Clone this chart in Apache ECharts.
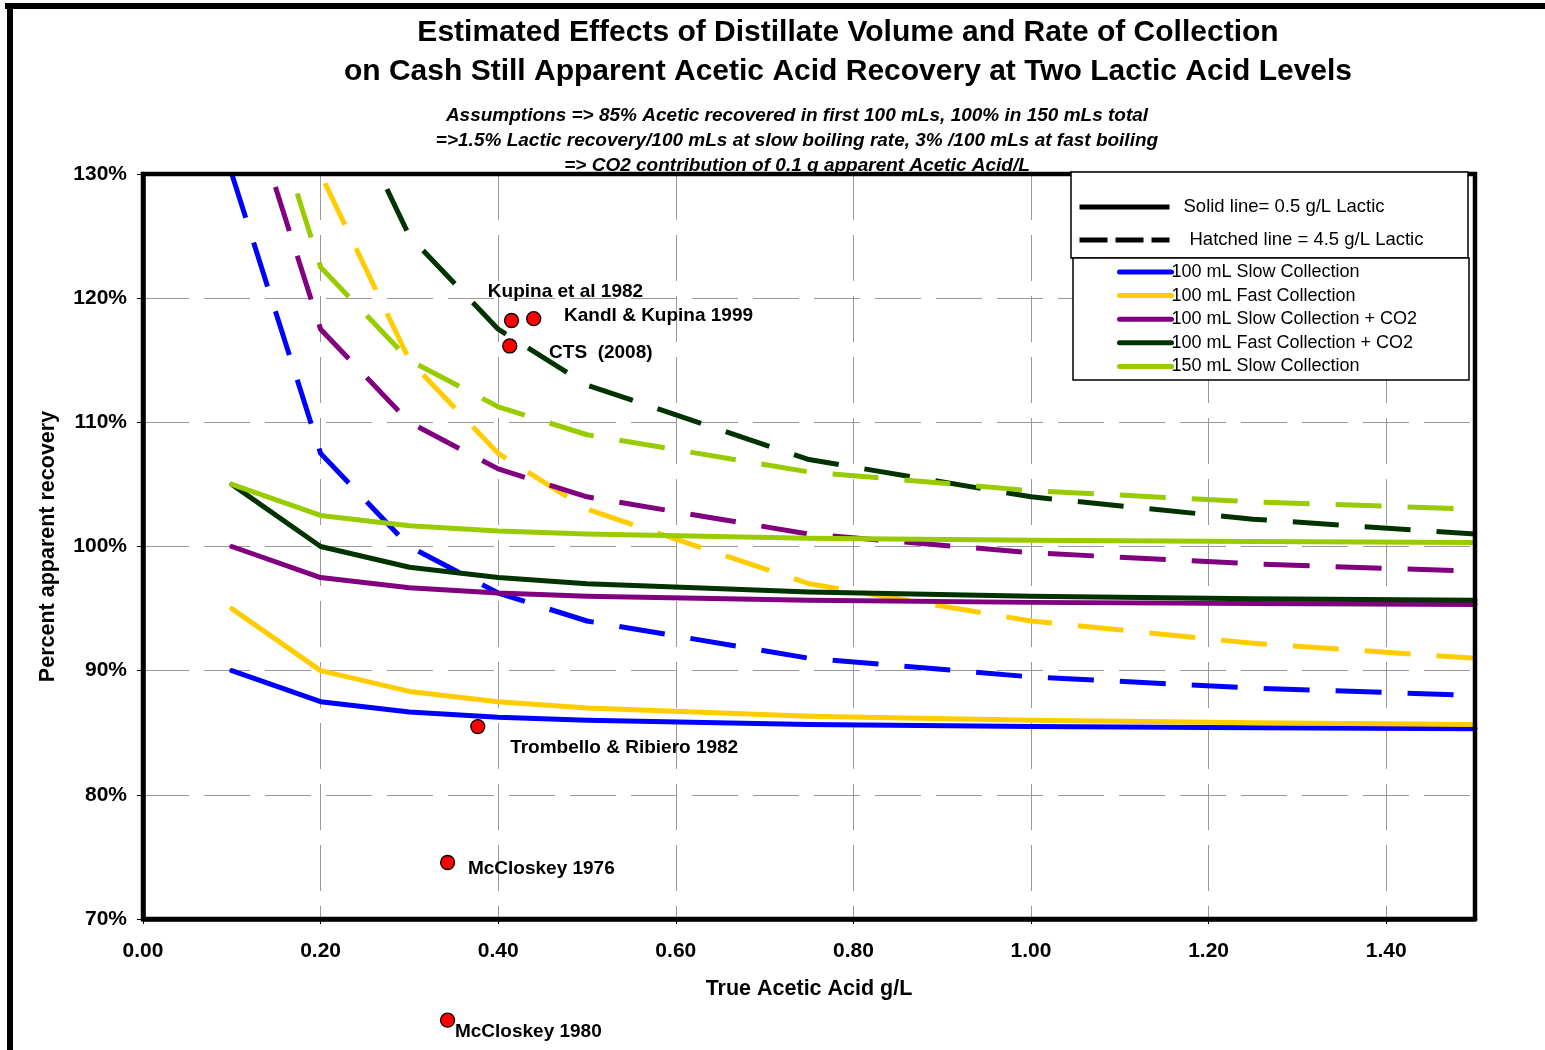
<!DOCTYPE html>
<html>
<head>
<meta charset="utf-8">
<script src="https://cdn.jsdelivr.net/npm/echarts@6/dist/echarts.min.js"></script>
<style>
html,body{margin:0;padding:0;background:#fff;}
#chart{width:1545px;height:1050px;}
</style>
</head>
<body>
<div id="chart"></div>
<script>
// ---------- data ----------
var xValues = [0.1, 0.2, 0.3, 0.4, 0.5, 0.75, 1.0, 1.25, 1.5];

var seriesNames = [
  '100 mL Slow Collection',
  '100 mL Fast Collection',
  '100 mL Slow Collection + CO2',
  '100 mL Fast Collection + CO2',
  '150 mL Slow Collection'
];

// solid lines: 0.5 g/L lactic (percent apparent recovery)
var slow100Low     = [90, 87.5, 86.67, 86.25, 86, 85.67, 85.5, 85.4, 85.33];
var fast100Low     = [95, 90, 88.33, 87.5, 87, 86.33, 86, 85.8, 85.67];
var slow100CO2Low  = [100, 97.5, 96.67, 96.25, 96, 95.67, 95.5, 95.4, 95.33];
var fast100CO2Low  = [105, 100, 98.33, 97.5, 97, 96.33, 96, 95.8, 95.67];
var slow150Low     = [105, 102.5, 101.67, 101.25, 101, 100.67, 100.5, 100.4, 100.33];

// hatched lines: 4.5 g/L lactic
var slow100High    = [130, 107.5, 100, 96.25, 94, 91, 89.5, 88.6, 88];
var fast100High    = [175, 130, 115, 107.5, 103, 97, 94, 92.2, 91];
var slow100CO2High = [140, 117.5, 110, 106.25, 104, 101, 99.5, 98.6, 98];
var fast100CO2High = [185, 140, 125, 117.5, 113, 107, 104, 102.2, 101];
var slow150High    = [145, 122.5, 115, 111.25, 109, 106, 104.5, 103.6, 103];

// literature points
var pointNames = ['Kupina et al 1982', 'Kandl & Kupina 1999', 'CTS  (2008)',
                  'Trombello & Ribiero 1982', 'McCloskey 1976', 'McCloskey 1980'];
var pointX = [0.415, 0.440, 0.413, 0.377, 0.343, 0.343];
var pointY = [118.2, 118.35, 116.15, 85.5, 74.55, 61.85];

var solidKey = 'Solid line= 0.5 g/L Lactic';
var hatchKey = 'Hatched line = 4.5 g/L Lactic';

// ---------- styling ----------
var colors = ['#0000FF', '#FFCC00', '#800080', '#003300', '#99CC00'];
var labelOffsets = [[-23, -28], [31, -2], [40, 7], [33, 22], [21, 7], [8, 12]];
var FONT = '"Liberation Sans", Arial, sans-serif';
var dashPattern = [46, 26];

function pairs(ys) {
  return xValues.map(function (x, i) { return [x, ys[i]]; });
}

var lowSets = [slow100Low, fast100Low, slow100CO2Low, fast100CO2Low, slow150Low];
var highSets = [slow100High, fast100High, slow100CO2High, fast100CO2High, slow150High];

var series = [];
// dummy series for the line-style key legend
series.push({
  name: solidKey, type: 'line', data: [], symbol: 'none',
  lineStyle: { color: '#000', width: 5, type: 'solid' }, itemStyle: { color: '#000' }
});
series.push({
  name: hatchKey, type: 'line', data: [], symbol: 'none',
  lineStyle: { color: '#000', width: 5, type: [28, 8] }, itemStyle: { color: '#000' }
});

for (var i = 0; i < 5; i++) {
  series.push({
    name: seriesNames[i] + ' (4.5 g/L)',
    type: 'line',
    data: pairs(highSets[i]),
    symbol: 'none',
    z: 2,
    lineStyle: { color: colors[i], width: 5, type: dashPattern, cap: 'butt' },
    itemStyle: { color: colors[i] },
    animation: false
  });
}
for (var j = 0; j < 5; j++) {
  series.push({
    name: seriesNames[j],
    type: 'line',
    data: pairs(lowSets[j]),
    symbol: 'none',
    z: 3,
    lineStyle: { color: colors[j], width: 5, type: 'solid', cap: 'round', join: 'round' },
    itemStyle: { color: colors[j] },
    animation: false
  });
}

var labelBase = {
  show: true,
  align: 'left',
  verticalAlign: 'middle',
  color: '#000',
  opacity: 1,
  textBorderWidth: 0,
  fontFamily: FONT,
  fontWeight: 'bold',
  fontSize: 19
};
var scatterData = pointX.map(function (x, k) {
  return {
    value: [x, pointY[k]],
    name: pointNames[k],
    label: Object.assign({}, labelBase, {
      formatter: pointNames[k],
      position: [labelOffsets[k][0] + 7, labelOffsets[k][1] + 7]
    })
  };
});
series.push({
  name: 'Literature',
  type: 'scatter',
  data: scatterData,
  symbol: 'circle',
  symbolSize: 14,
  clip: false,
  z: 6,
  label: labelBase,
  itemStyle: { color: '#FF0000', borderColor: '#000', borderWidth: 1.3, opacity: 1 },
  emphasis: { disabled: true },
  animation: false
});

var chart = echarts.init(document.getElementById('chart'), null, { renderer: 'canvas' });

var option = {
  animation: false,
  backgroundColor: '#fff',
  title: [
    {
      text: 'Estimated Effects of Distillate Volume and Rate of Collection\non Cash Still Apparent Acetic Acid Recovery at Two Lactic Acid Levels',
      left: 848, top: 13, padding: 0, textAlign: 'center',
      textStyle: { fontFamily: FONT, fontWeight: 'bold', fontSize: 30, lineHeight: 39, color: '#000' }
    },
    {
      text: 'Assumptions => 85% Acetic recovered in first 100 mLs, 100% in 150 mLs total\n=>1.5% Lactic recovery/100 mLs at slow boiling rate, 3% /100 mLs at fast boiling\n=> CO2 contribution of 0.1 g apparent Acetic Acid/L',
      left: 797, top: 103, padding: 0, textAlign: 'center',
      textStyle: { fontFamily: FONT, fontWeight: 'bold', fontStyle: 'italic', fontSize: 19, lineHeight: 25, color: '#000' }
    }
  ],
  grid: {
    left: 143, top: 174, right: 70, bottom: 131,
    show: false
  },
  legend: [
    {
      data: [
        { name: solidKey, textStyle: { padding: [0, 0, 0, 9] } },
        { name: hatchKey, textStyle: { padding: [0, 0, 0, 15] } }
      ],
      orient: 'vertical',
      left: 1077, top: 197, padding: 0,
      itemWidth: 90, itemHeight: 14, itemGap: 13,
      selectedMode: false,
      lineStyle: { width: 5 },
      itemStyle: { opacity: 0 },
      textStyle: { fontFamily: FONT, fontSize: 18.5, lineHeight: 20, color: '#000' },
      z: 10
    },
    {
      data: seriesNames,
      orient: 'vertical',
      left: 1117, top: 262, padding: 0,
      itemWidth: 52, itemHeight: 14, itemGap: 3.6,
      selectedMode: false,
      lineStyle: { width: 5, cap: 'round' },
      itemStyle: { opacity: 0 },
      textStyle: { fontFamily: FONT, fontSize: 18, lineHeight: 20, color: '#000', padding: [0, 0, 0, -5] },
      z: 10
    }
  ],
  xAxis: {
    type: 'value', min: 0, max: 1.5, interval: 0.2,
    name: 'True Acetic Acid g/L', nameLocation: 'middle', nameGap: 59,
    nameTextStyle: { fontFamily: FONT, fontWeight: 'bold', fontSize: 21.5, color: '#000' },
    axisLine: { show: true, lineStyle: { color: '#000', width: 4.5 } },
    axisTick: { show: true, length: 5, lineStyle: { color: '#000', width: 1 } },
    axisLabel: {
      showMaxLabel: false, margin: 22,
      fontFamily: FONT, fontWeight: 'bold', fontSize: 21, color: '#000',
      formatter: function (v) { return v.toFixed(2); }
    },
    splitLine: { show: true, showMinLine: false, showMaxLine: false, lineStyle: { color: '#999', width: 1, type: [46, 15] } }
  },
  yAxis: {
    type: 'value', min: 70, max: 130, interval: 10,
    name: 'Percent apparent recovery', nameLocation: 'middle', nameGap: 84,
    nameTextStyle: { fontFamily: FONT, fontWeight: 'bold', fontSize: 21.5, color: '#000' },
    axisLine: { show: true, lineStyle: { color: '#000', width: 4.5 } },
    axisTick: { show: true, length: 6, lineStyle: { color: '#000', width: 1 } },
    axisLabel: {
      margin: 16,
      fontFamily: FONT, fontWeight: 'bold', fontSize: 21, color: '#000',
      formatter: '{value}%'
    },
    splitLine: { show: true, showMinLine: false, showMaxLine: false, lineStyle: { color: '#999', width: 1, type: [46, 15] } }
  },
  graphic: [
    { type: 'line', z: 20, shape: { x1: 5, y1: 6, x2: 1545, y2: 6 }, style: { stroke: '#000', lineWidth: 6 } },
    { type: 'line', z: 20, shape: { x1: 10, y1: 3, x2: 10, y2: 1050 }, style: { stroke: '#000', lineWidth: 6 } },
    { type: 'rect', z: 9, shape: { x: 143, y: 174, width: 1332, height: 745 }, style: { fill: null, stroke: '#000', lineWidth: 4.5 } },
    { type: 'rect', z: 9.5, shape: { x: 1071, y: 172, width: 397, height: 86 }, style: { fill: '#fff', stroke: '#000', lineWidth: 1.5 } },
    { type: 'rect', z: 9.5, shape: { x: 1073, y: 258, width: 396, height: 122 }, style: { fill: '#fff', stroke: '#000', lineWidth: 1.5 } }
  ],
  series: series
};

chart.setOption(option);
</script>
</body>
</html>
